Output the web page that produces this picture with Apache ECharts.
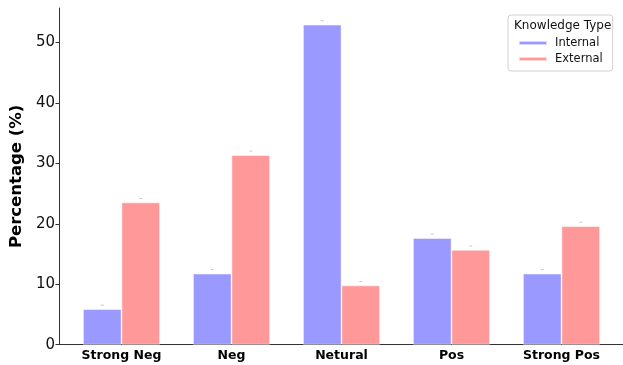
<!DOCTYPE html>
<html>
<head>
<meta charset="utf-8">
<script src="https://cdn.jsdelivr.net/npm/echarts@6/dist/echarts.min.js"></script>
<style>html,body{margin:0;padding:0;background:#fff}#c{width:623px;height:365px}</style>
</head>
<body>
<div id="c"></div>
<script>
const categories = ['Strong Neg', 'Neg', 'Netural', 'Pos', 'Strong Pos'];
const internalValues = [5.88, 11.76, 52.94, 17.65, 11.76];
const externalValues = [23.53, 31.37, 9.80, 15.69, 19.61];
const seriesNames = ['Internal', 'External'];
const yTicks = [0, 10, 20, 30, 40, 50];
const yMax = 55.7;

const colors = ['#9999ff', '#ff9999'];
const FONT = 'DejaVu Sans';

function capSeries(values, sign) {
  return {
    type: 'custom', xAxisIndex: 1, yAxisIndex: 1, silent: true, z: 5,
    data: values.map((v, i) => [i, v]),
    renderItem: function (params, api) {
      const p = api.coord([api.value(0), api.value(1)]);
      const band = api.size([1, 0])[0];
      const cx = p[0] + sign * band * 0.175;
      return { type: 'rect', shape: { x: cx - 1.5, y: p[1] - 4.5, width: 3, height: 1 }, style: { fill: '#c8c8c8' } };
    }
  };
}

const chart = echarts.init(document.getElementById('c'), null, { renderer: 'canvas' });
chart.setOption({
  animation: false,
  textStyle: { fontFamily: FONT },
  title: {
    text: 'Knowledge Type', left: 514, top: 19, padding: 0,
    textStyle: { fontFamily: FONT, fontSize: 12, fontWeight: 'normal', color: '#111', lineHeight: 14 }
  },
  legend: {
    data: seriesNames, orient: 'vertical', left: 508, top: 15,
    padding: [21, 10, 5, 10], itemGap: 2,
    itemWidth: 28, itemHeight: 4, icon: 'rect',
    borderColor: '#d0d0d0', borderWidth: 1, borderRadius: 3,
    backgroundColor: 'rgba(255,255,255,0.8)',
    textStyle: { fontFamily: FONT, fontSize: 11.5, color: '#111', lineHeight: 14, padding: [0, 0, 0, 3] }
  },
  grid: [
    { left: 57, right: 0, top: 8, bottom: 20.3, containLabel: false },
    { left: 66.5, right: 6.5, top: 8, bottom: 20.3, containLabel: false }
  ],
  xAxis: [
    { gridIndex: 0, type: 'value', min: 0, max: 1, axisLine: { show: true, onZero: false, lineStyle: { color: '#333', width: 1 } },
      axisTick: { show: false }, axisLabel: { show: false }, splitLine: { show: false } },
    { gridIndex: 1, type: 'category', data: categories, boundaryGap: true,
      axisLine: { show: false }, axisTick: { show: false }, splitLine: { show: false },
      axisLabel: { show: true, interval: 0, margin: 5, fontFamily: FONT, fontSize: 12.5, fontWeight: 'bold', color: '#000' } }
  ],
  yAxis: [
    { gridIndex: 0, type: 'value', min: 0, max: yMax, interval: 10,
      axisLine: { show: true, lineStyle: { color: '#333', width: 1 } },
      axisTick: { show: true, length: 3.5, lineStyle: { color: '#333' }, customValues: yTicks },
      axisLabel: { fontFamily: FONT, fontSize: 15, color: '#111', margin: 4, customValues: yTicks },
      splitLine: { show: false },
      name: 'Percentage (%)', nameLocation: 'middle', nameGap: 25, nameRotate: 90,
      nameTextStyle: { fontFamily: FONT, fontSize: 16.5, fontWeight: 'bold', color: '#000' } },
    { gridIndex: 1, type: 'value', min: 0, max: yMax, show: false, splitLine: { show: false } }
  ],
  series: [
    { name: seriesNames[0], type: 'bar', xAxisIndex: 1, yAxisIndex: 1, data: internalValues,
      barWidth: 38.5, barGap: '0%', itemStyle: { color: colors[0], borderColor: 'rgba(255,255,255,0.6)', borderWidth: 0.8 } },
    { name: seriesNames[1], type: 'bar', xAxisIndex: 1, yAxisIndex: 1, data: externalValues,
      barWidth: 38.5, barGap: '0%', itemStyle: { color: colors[1], borderColor: 'rgba(255,255,255,0.6)', borderWidth: 0.8 } },
    capSeries(internalValues, -1),
    capSeries(externalValues, 1)
  ]
});
</script>
</body>
</html>
